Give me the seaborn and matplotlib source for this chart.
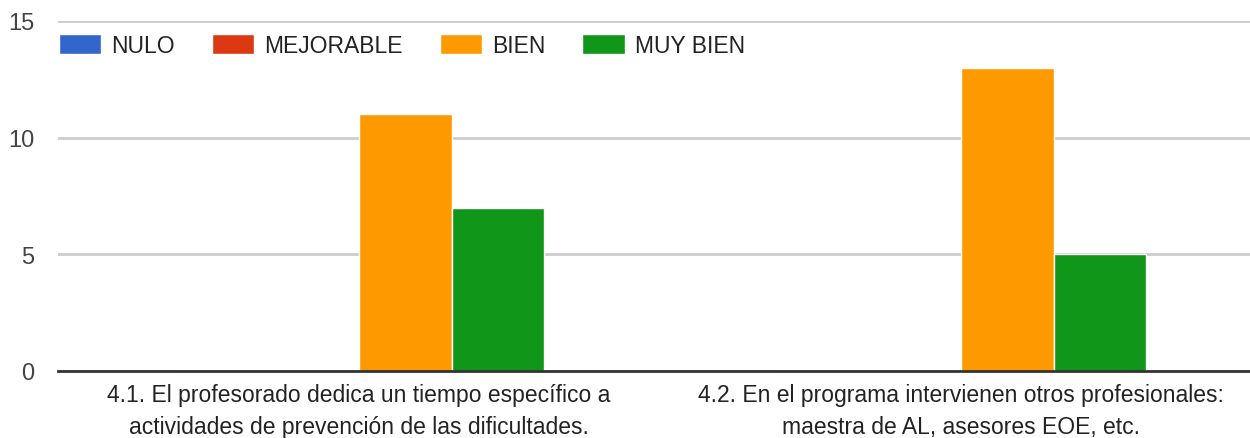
import pandas as pd
import matplotlib.pyplot as plt
import seaborn as sns

# ------------------------------------------
# DATA
# ------------------------------------------
questions = [
    "4.1. El profesorado dedica un tiempo específico a\nactividades de prevención de las dificultades.",
    "4.2. En el programa intervienen otros profesionales:\nmaestra de AL, asesores EOE, etc.",
]
levels = ["NULO", "MEJORABLE", "BIEN", "MUY BIEN"]
q1_counts = [0, 0, 11, 7]
q2_counts = [0, 0, 13, 5]
colors = ["#3366cc", "#dc3912", "#ff9900", "#109618"]

df = pd.DataFrame({
    "pregunta": [questions[0]] * 4 + [questions[1]] * 4,
    "nivel": levels * 2,
    "n": q1_counts + q2_counts,
})

# ------------------------------------------
# PLOT
# ------------------------------------------
sns.set_style("white")
plt.rcParams["font.family"] = ["Liberation Sans", "DejaVu Sans"]

fig = plt.figure(figsize=(12.5, 4.39), dpi=100)
ax = fig.add_axes([58 / 1250, 67 / 439, 1 - 58 / 1250, 350 / 439])

sns.barplot(data=df, x="pregunta", y="n", hue="nivel", hue_order=levels,
            palette=colors, width=0.615, edgecolor="white", linewidth=1,
            saturation=1, ax=ax)

ax.set_xlim(-0.5, 1.48)
ax.set_ylim(0, 15)
ax.set_yticks([0, 5, 10, 15])
ax.yaxis.grid(True, color="#cccccc", linewidth=2)
ax.set_axisbelow(True)
for s in ["top", "right", "left"]:
    ax.spines[s].set_visible(False)
ax.spines["bottom"].set_color("#333333")
ax.spines["bottom"].set_linewidth(2)
ax.tick_params(axis="both", length=0, labelcolor="#444444")
ax.tick_params(axis="y", labelsize=17, pad=17)
ax.tick_params(axis="x", labelsize=16.5, pad=9)
ax.set_xlabel("")
ax.set_ylabel("")
for lab in ax.get_xticklabels():
    lab.set_color("#222222")
    lab.set_linespacing(1.5)

ax.legend(loc="upper left", bbox_to_anchor=(-0.007, 0.99), ncol=4, frameon=False,
          fontsize=16.5, handlelength=1.85, handleheight=1.0, handletextpad=0.45,
          columnspacing=1.6, borderaxespad=0, labelcolor="#222222")

plt.savefig("out.png", dpi=100)
